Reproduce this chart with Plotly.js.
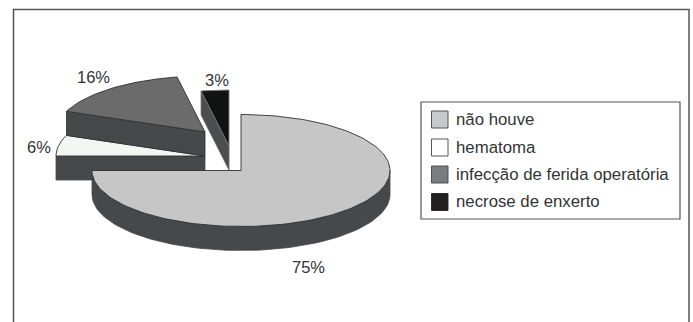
<!DOCTYPE html>
<html>
<head>
<meta charset="utf-8">
<script src="https://cdn.plot.ly/plotly-3.0.1.min.js"></script>
<style>html,body{margin:0;padding:0;background:#fff}#chart{width:693px;height:322px}</style>
</head>
<body>
<div id="chart"></div>
<script>
// Complication shares (percent), clockwise from twelve o'clock
const categories = ['não houve', 'hematoma', 'infecção de ferida operatória', 'necrose de enxerto'];
const values = [75, 6, 16, 3];

const topColors = ['#c6c6c6', '#f4f6f4', '#6b6b6b', '#111312'];
const swatchColors = ['#c8c9cb', '#ffffff', '#7a7c80', '#231f20'];
const wallColor = '#47484a';
const edgeColor = '#2f2f2f';

// Pie projection, in page pixels (the axes map 1:1 onto the page)
const radiusX = 149, radiusY = 56, depth = 24;
const apexes = [[241, 170.5], [205, 156], [205, 132], [229, 146]];
const labelSpots = [[308, 267], [39, 147], [93, 77], [217, 80]];

const rad = d => d * Math.PI / 180;
const rim = (apex, deg, drop = 0) => [
  apex[0] + radiusX * Math.sin(rad(deg)),
  apex[1] - radiusY * Math.cos(rad(deg)) + drop
];
function arc(apex, from, to, drop = 0) {
  const n = Math.max(2, Math.ceil(Math.abs(to - from) / 2));
  const pts = [];
  for (let i = 0; i <= n; i++) pts.push(rim(apex, from + (to - from) * i / n, drop));
  return pts;
}
function poly(pts, fill, line, width) {
  const closed = pts.concat([pts[0]]);
  return {
    type: 'scatter', mode: 'lines', hoverinfo: 'skip', showlegend: false,
    x: closed.map(p => p[0]), y: closed.map(p => p[1]),
    fill: 'toself', fillcolor: fill,
    line: {color: line || fill, width: width === undefined ? 0.8 : width, shape: 'linear'}
  };
}

// Slice angles from the values
const total = values.reduce((a, b) => a + b, 0);
const spans = [];
values.reduce((start, v) => {
  const end = start + v / total * 360;
  spans.push([start, end]);
  return end;
}, 0);

const sliceTraces = i => {
  const [a, b] = spans[i];
  const apex = apexes[i];
  const out = [];
  // Outer wall, only the arc that faces the viewer
  const wa = Math.max(a, 90), wb = Math.min(b, 270);
  if (wb > wa) {
    out.push(poly(arc(apex, wa, wb).concat(arc(apex, wa, wb, depth).reverse()), wallColor, wallColor, 0.8));
  }
  // Cut face turned toward the viewer
  if (i > 0) {
    const p = rim(apex, a);
    const face = [p, apex, [apex[0], apex[1] + depth], [p[0], p[1] + depth]];
    if (i === 1) out.push(poly(face, wallColor, wallColor, 0.8));
    else if (i === 2) out.push(poly(face, wallColor, edgeColor, 0.8));
    else out.push(poly(face, '#4c4d4f', '#666', 0.8));
  }
  // Top face
  out.push(poly([apex].concat(arc(apex, a, b)), topColors[i], i === 3 ? '#777' : edgeColor, 0.9));
  return out;
};

// Back to front
const traces = [3, 1, 2, 0].flatMap(sliceTraces);

const annotations = values.map((v, i) => ({
  x: labelSpots[i][0], y: labelSpots[i][1], xref: 'x', yref: 'y',
  text: v + '%', showarrow: false, xanchor: 'center', yanchor: 'middle',
  font: {family: 'Liberation Sans, Arial, sans-serif', size: 16.5, color: '#333'}
}));

const frameColor = '#555';
const shapes = [
  {type: 'path', path: 'M13.5,322 L13.5,9.5 L689,9.5 L689,322', line: {color: frameColor, width: 1.5}},
  {type: 'rect', x0: 421, x1: 680, y0: 102, y1: 219, line: {color: '#555', width: 1.2}, fillcolor: '#fff'}
];

// Legend rows
const rowTops = [111, 139, 166, 193.5];
categories.forEach((c, i) => {
  shapes.push({type: 'rect', x0: 431.5, x1: 448, y0: rowTops[i], y1: rowTops[i] + 17,
    fillcolor: swatchColors[i], line: {color: i === 3 ? '#231f20' : '#444', width: 0.9}});
  annotations.push({
    x: 454, y: rowTops[i] + 8, xref: 'x', yref: 'y', text: c, showarrow: false,
    xanchor: 'left', yanchor: 'middle',
    font: {family: 'Liberation Sans, Arial, sans-serif', size: 16.8, color: '#333'}
  });
});

const hidden = {visible: false, fixedrange: true};
Plotly.newPlot('chart', traces, {
  width: 693, height: 322,
  margin: {l: 0, r: 0, t: 0, b: 0},
  paper_bgcolor: '#fff', plot_bgcolor: '#fff',
  showlegend: false,
  xaxis: Object.assign({range: [0, 693]}, hidden),
  yaxis: Object.assign({range: [322, 0]}, hidden),
  shapes, annotations
}, {displayModeBar: false, staticPlot: true});
</script>
</body>
</html>
